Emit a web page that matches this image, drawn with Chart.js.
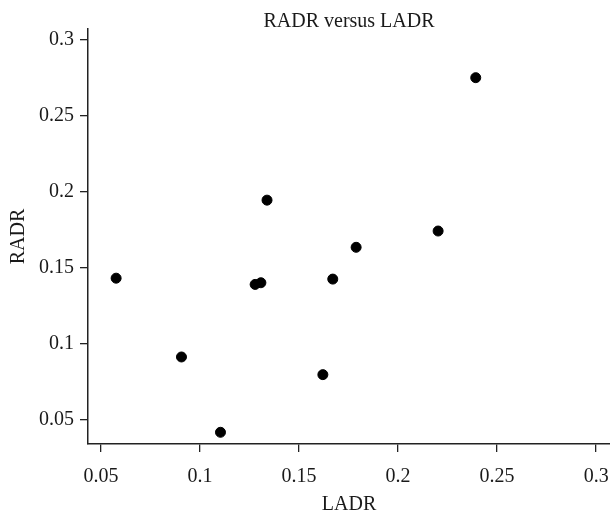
<!DOCTYPE html>
<html>
<head>
<meta charset="utf-8">
<script src="https://cdn.jsdelivr.net/npm/chart.js@4/dist/chart.umd.min.js"></script>
<style>
  html, body { margin: 0; padding: 0; background: #fff; }
  #wrap { width: 610px; height: 517px; position: relative; }
</style>
</head>
<body>
<div id="wrap"><canvas id="c"></canvas></div>
<script>
// Data
const ladr = [0.0576, 0.0906, 0.1103, 0.1278, 0.1307, 0.1338, 0.1620, 0.1670, 0.1788, 0.2202, 0.2392];
const radr = [0.1432, 0.0914, 0.0419, 0.1391, 0.1402, 0.1945, 0.0798, 0.1426, 0.1635, 0.1742, 0.2750];
const xTickValues = [0.05, 0.1, 0.15, 0.2, 0.25, 0.3];
const xTickLabels = ['0.05', '0.1', '0.15', '0.2', '0.25', '0.3'];
const yTickValues = [0.05, 0.1, 0.15, 0.2, 0.25, 0.3];
const yTickLabels = ['0.05', '0.1', '0.15', '0.2', '0.25', '0.3'];
const chartTitle = 'RADR versus LADR';
const xTitle = 'LADR';
const yTitle = 'RADR';

const points = ladr.map((x, i) => ({ x: x, y: radr[i] }));

// Let the plot area run to the canvas edge like the reference (no extra room for point radius)
if (Chart.ScatterController) {
  Chart.ScatterController.prototype.getMaxOverflow = function () { return 0; };
}

const FONT = "'Liberation Serif', 'DejaVu Serif', serif";
Chart.defaults.font.family = FONT;
Chart.defaults.font.size = 20;
Chart.defaults.color = '#1a1a1a';

const titlePlugin = {
  id: 'centeredTitle',
  afterDraw(chart) {
    const ctx = chart.ctx;
    const a = chart.chartArea;
    ctx.save();
    ctx.font = "20px " + FONT;
    ctx.fillStyle = '#1a1a1a';
    ctx.textAlign = 'center';
    ctx.textBaseline = 'alphabetic';
    ctx.fillText(chartTitle, (a.left + a.right) / 2, 27);
    ctx.restore();
  }
};

const axisColor = '#222';

new Chart(document.getElementById('c'), {
  type: 'scatter',
  data: {
    datasets: [{
      data: points,
      backgroundColor: '#000',
      borderColor: '#000',
      pointRadius: 5,
      pointHoverRadius: 5
    }]
  },
  options: {
    responsive: true,
    maintainAspectRatio: false,
    animation: false,
    layout: { padding: { top: 29, right: 0, left: 0, bottom: 0 } },
    plugins: {
      legend: { display: false },
      title: { display: false },
      tooltip: { enabled: false }
    },
    scales: {
      x: {
        type: 'linear',
        min: 0.0434,
        max: 0.307,
        afterBuildTicks: (s) => { s.ticks = xTickValues.map(v => ({ value: v })); },
        afterFit: (s) => { s.height = 73; s.paddingLeft = 0; s.paddingRight = 0; },
        ticks: {
          padding: 13,
          autoSkip: false,
          maxRotation: 0,
          callback: (v, i) => xTickLabels[i]
        },
        grid: { drawOnChartArea: false, drawTicks: true, tickLength: 8, tickColor: axisColor, lineWidth: 1.3 },
        border: { display: true, color: axisColor, width: 1.5 },
        title: { display: true, text: xTitle, padding: { top: 0, bottom: 0 } }
      },
      y: {
        type: 'linear',
        min: 0.0342,
        max: 0.307,
        afterBuildTicks: (s) => { s.ticks = yTickValues.map(v => ({ value: v })); },
        afterFit: (s) => { s.width = 88; s.paddingTop = 0; s.paddingBottom = 0; },
        ticks: {
          padding: 6,
          autoSkip: false,
          callback: (v, i) => yTickLabels[i]
        },
        grid: { drawOnChartArea: false, drawTicks: true, tickLength: 8, tickColor: axisColor, lineWidth: 1.3 },
        border: { display: true, color: axisColor, width: 1.5 },
        title: { display: true, text: yTitle, padding: { top: 7, bottom: 0 } }
      }
    }
  },
  plugins: [titlePlugin]
});
</script>
</body>
</html>
